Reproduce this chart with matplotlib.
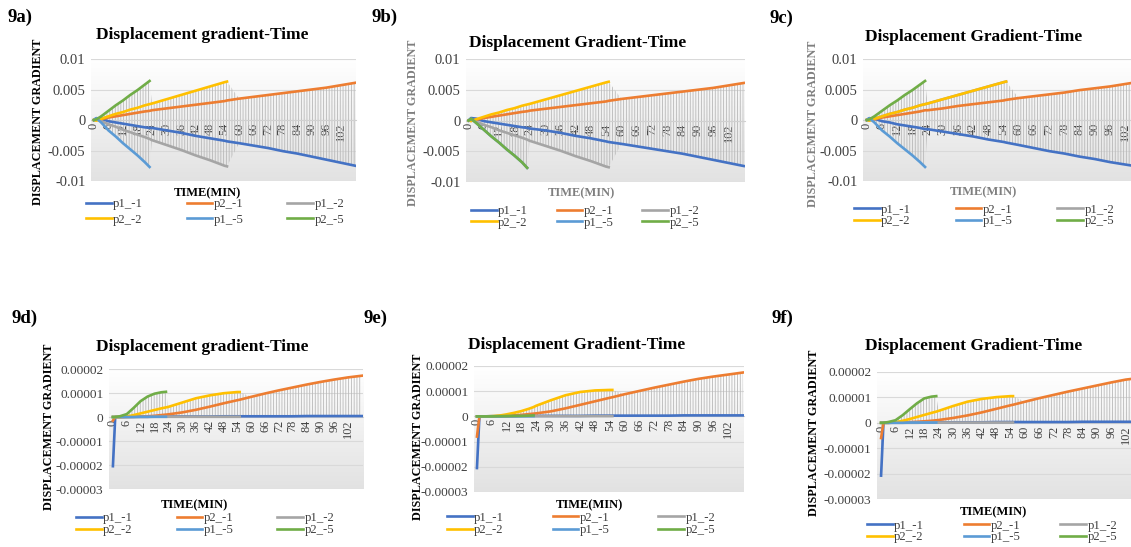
import numpy as np
import matplotlib
matplotlib.use("Agg")
import matplotlib.pyplot as plt
from matplotlib.colors import LinearSegmentedColormap

plt.rcParams['font.family'] = ['Liberation Serif', 'DejaVu Serif']
plt.rcParams['hatch.linewidth'] = 0.6

W, H = 1131, 547

# time grid (min) shared by every series; None = series already finished
T = [0, 1, 3, 6, 9, 12, 15, 18, 21, 23, 24, 30, 36, 42, 48, 54, 55,
     60, 66, 72, 78, 84, 90, 96, 102, 108]

SERIES = ["p1_-1", "p2_-1", "p1_-2", "p2_-2", "p1_-5", "p2_-5"]
COLORS = ["#4472C4", "#ED7D31", "#A5A5A5", "#FFC000", "#5B9BD5", "#70AD47"]

XTICKS = [0, 6, 12, 18, 24, 30, 36, 42, 48, 54, 60, 66, 72, 78, 84, 90, 96, 102]
YTICKS_TOP = [-0.01, -0.005, 0, 0.005, 0.01]
YLABELS_TOP = ["-0.01", "-0.005", "0", "0.005", "0.01"]
YTICKS_BOT = [-0.00003, -0.00002, -0.00001, 0, 0.00001, 0.00002]
YLABELS_BOT = ["-0.00003", "-0.00002", "-0.00001", "0", "0.00001", "0.00002"]

N = None
# ---- 9a
A_P1_1 = [0, 0.0003, 0.0002, -0.0002, -0.0004, -0.0006, -0.0008, -0.0010, -0.0012, -0.0013, -0.0013,
          -0.0017, -0.0021, -0.0026, -0.0030, -0.0034, -0.0035, -0.0038, -0.0042, -0.0046, -0.0051,
          -0.0055, -0.0060, -0.0065, -0.0070, -0.0075]
A_P2_1 = [0, 0, 0.0001, 0.0004, 0.0006, 0.0008, 0.0010, 0.0012, 0.0014, 0.0015, 0.0016,
          0.0019, 0.0022, 0.0025, 0.0028, 0.0031, 0.0032, 0.0035, 0.0038, 0.0041, 0.0044,
          0.0047, 0.0050, 0.0053, 0.0057, 0.0061]
A_P1_2 = [0, 0.0001, -0.0002, -0.0007, -0.0011, -0.0016, -0.0020, -0.0024, -0.0028, -0.0031, -0.0033,
          -0.0041, -0.0049, -0.0058, -0.0066, -0.0075, -0.0076, N, N, N, N, N, N, N, N, N]
A_P2_2 = [0, -0.0001, 0.0002, 0.0006, 0.0010, 0.0013, 0.0017, 0.0020, 0.0024, 0.0026, 0.0027,
          0.0034, 0.0041, 0.0048, 0.0055, 0.0062, 0.0063, N, N, N, N, N, N, N, N, N]
A_P1_5 = [0, 0.0003, -0.0004, -0.0017, -0.0027, -0.0038, -0.0048, -0.0058, -0.0069, -0.0077,
          N, N, N, N, N, N, N, N, N, N, N, N, N, N, N, N]
A_P2_5 = [0, 0.0001, 0.0006, 0.0015, 0.0024, 0.0032, 0.0041, 0.0049, 0.0058, 0.0064,
          N, N, N, N, N, N, N, N, N, N, N, N, N, N, N, N]
# ---- 9b
B_P1_1 = [0, 0.0004, 0.0003, -0.0001, -0.0003, -0.0005, -0.0007, -0.0009, -0.0011, -0.0012, -0.0013,
          -0.0016, -0.0020, -0.0025, -0.0029, -0.0034, -0.0035, -0.0038, -0.0042, -0.0046, -0.0050,
          -0.0054, -0.0059, -0.0064, -0.0069, -0.0074]
B_P2_1 = [0, 0, 0.0001, 0.0004, 0.0006, 0.0008, 0.0010, 0.0012, 0.0014, 0.0015, 0.0016,
          0.0019, 0.0022, 0.0025, 0.0028, 0.0031, 0.0032, 0.0035, 0.0038, 0.0041, 0.0044,
          0.0047, 0.0050, 0.0053, 0.0057, 0.0061]
B_P1_2 = [0, 0.0001, -0.0002, -0.0007, -0.0011, -0.0016, -0.0020, -0.0024, -0.0028, -0.0031, -0.0033,
          -0.0041, -0.0049, -0.0058, -0.0066, -0.0075, -0.0076, N, N, N, N, N, N, N, N, N]
B_P2_2 = [0, -0.0001, 0.0002, 0.0006, 0.0010, 0.0013, 0.0017, 0.0020, 0.0024, 0.0026, 0.0027,
          0.0034, 0.0041, 0.0048, 0.0055, 0.0062, 0.0063, N, N, N, N, N, N, N, N, N]
B_P1_5 = [0, 0.0003, -0.0004, -0.0015, -0.0026, -0.0036, -0.0047, -0.0057, -0.0068, -0.0077,
          N, N, N, N, N, N, N, N, N, N, N, N, N, N, N, N]
B_P2_5 = [0, 0.0003, -0.0004, -0.0015, -0.0026, -0.0036, -0.0047, -0.0057, -0.0068, -0.0077,
          N, N, N, N, N, N, N, N, N, N, N, N, N, N, N, N]
# ---- 9c
C_P1_1 = [0, 0.0003, 0.0002, -0.0002, -0.0004, -0.0007, -0.0009, -0.0011, -0.0013, -0.0015, -0.0015,
          -0.0019, -0.0023, -0.0027, -0.0032, -0.0036, -0.0037, -0.0041, -0.0046, -0.0051, -0.0055,
          -0.0060, -0.0064, -0.0069, -0.0073, -0.0077]
C_P2_1 = [0, 0, 0.0001, 0.0004, 0.0006, 0.0008, 0.0010, 0.0012, 0.0014, 0.0016, 0.0016,
          0.0019, 0.0023, 0.0026, 0.0029, 0.0032, 0.0033, 0.0036, 0.0039, 0.0042, 0.0045,
          0.0049, 0.0052, 0.0055, 0.0059, 0.0063]
C_P1_2 = [0, -0.0001, 0.0002, 0.0006, 0.0010, 0.0013, 0.0017, 0.0020, 0.0024, 0.0026, 0.0027,
          0.0034, 0.0041, 0.0048, 0.0055, 0.0062, 0.0063, N, N, N, N, N, N, N, N, N]
C_P2_2 = [0, -0.0001, 0.0002, 0.0006, 0.0010, 0.0013, 0.0017, 0.0020, 0.0024, 0.0026, 0.0027,
          0.0034, 0.0041, 0.0048, 0.0055, 0.0062, 0.0063, N, N, N, N, N, N, N, N, N]
C_P1_5 = [0, 0.0003, -0.0004, -0.0017, -0.0027, -0.0038, -0.0048, -0.0058, -0.0069, -0.0077,
          N, N, N, N, N, N, N, N, N, N, N, N, N, N, N, N]
C_P2_5 = [0, 0.0001, 0.0006, 0.0015, 0.0024, 0.0032, 0.0041, 0.0049, 0.0058, 0.0064,
          N, N, N, N, N, N, N, N, N, N, N, N, N, N, N, N]
# ---- 9d
D_P1_1 = [-2.05e-5, 0, 0, 1e-7, 1e-7, 1e-7, 1e-7, 2e-7, 2e-7, 2e-7, 2e-7, 2e-7, 2e-7, 2e-7,
          3e-7, 3e-7, 3e-7, 3e-7, 3e-7, 3e-7, 3e-7, 4e-7, 4e-7, 4e-7, 4e-7, 4e-7]
D_P2_1 = [-1.5e-6, 0, 0, 0, 1e-7, 2e-7, 3e-7, 5e-7, 8e-7, 1.0e-6, 1.1e-6, 1.9e-6, 3.0e-6, 4.3e-6,
          5.7e-6, 7.0e-6, 7.2e-6, 8.4e-6, 9.8e-6, 1.11e-5, 1.23e-5, 1.35e-5, 1.46e-5, 1.56e-5,
          1.65e-5, 1.72e-5]
D_P1_2 = [0, 0, 0, 0, 0, 0, 0, 1e-7, 1e-7, 1e-7, 1e-7, 1e-7, 1e-7, 1e-7, 1e-7, 1e-7, 1e-7,
          N, N, N, N, N, N, N, N, N]
D_P2_2 = [0, 0, 0, 2e-7, 8e-7, 1.5e-6, 2.2e-6, 2.9e-6, 3.6e-6, 4.0e-6, 4.2e-6, 6.0e-6, 7.8e-6,
          9.0e-6, 9.9e-6, 1.04e-5, 1.04e-5, N, N, N, N, N, N, N, N, N]
D_P1_5 = [0, 0, 0, 0, 0, 1e-7, 1e-7, 1e-7, 1e-7, 1e-7,
          N, N, N, N, N, N, N, N, N, N, N, N, N, N, N, N]
D_P2_5 = [0, 0, 3e-7, 1.2e-6, 3.8e-6, 6.6e-6, 8.5e-6, 9.7e-6, 1.03e-5, 1.05e-5,
          N, N, N, N, N, N, N, N, N, N, N, N, N, N, N, N]
# ---- 9e
E_P1_1 = [-2.05e-5, 0, 0, 1e-7, 1e-7, 1e-7, 1e-7, 2e-7, 2e-7, 2e-7, 2e-7, 2e-7, 2e-7, 2e-7,
          3e-7, 3e-7, 3e-7, 3e-7, 3e-7, 3e-7, 3e-7, 4e-7, 4e-7, 4e-7, 4e-7, 4e-7]
E_P2_1 = [-8e-6, 0, 0, 0, 1e-7, 2e-7, 4e-7, 6e-7, 9e-7, 1.1e-6, 1.2e-6, 2.0e-6, 3.2e-6, 4.6e-6,
          6.0e-6, 7.4e-6, 7.6e-6, 8.8e-6, 1.01e-5, 1.14e-5, 1.26e-5, 1.38e-5, 1.49e-5, 1.58e-5,
          1.66e-5, 1.74e-5]
E_P1_2 = [0, 0, 0, 0, 0, 0, 0, 1e-7, 1e-7, 1e-7, 1e-7, 1e-7, 1e-7, 1e-7, 1e-7, 1e-7, 1e-7,
          N, N, N, N, N, N, N, N, N]
E_P2_2 = [0, 0, 0, 1e-7, 3e-7, 8e-7, 1.4e-6, 2.1e-6, 3.0e-6, 3.7e-6, 4.2e-6, 6.4e-6, 8.4e-6,
          9.7e-6, 1.03e-5, 1.05e-5, 1.05e-5, N, N, N, N, N, N, N, N, N]
E_P1_5 = [0, 0, 0, 0, 0, 1e-7, 1e-7, 1e-7, 1e-7, 1e-7,
          N, N, N, N, N, N, N, N, N, N, N, N, N, N, N, N]
E_P2_5 = [0, 0, 0, 0, 1e-7, 1e-7, 2e-7, 2e-7, 3e-7, 4e-7,
          N, N, N, N, N, N, N, N, N, N, N, N, N, N, N, N]
# ---- 9f
F_P1_1 = [-2.08e-5, 0, 0, 1e-7, 1e-7, 1e-7, 1e-7, 2e-7, 2e-7, 2e-7, 2e-7, 2e-7, 2e-7, 2e-7,
          3e-7, 3e-7, 3e-7, 3e-7, 3e-7, 3e-7, 3e-7, 4e-7, 4e-7, 4e-7, 4e-7, 4e-7]
F_P2_1 = [-6e-6, 0, 0, 1e-7, 2e-7, 3e-7, 4e-7, 6e-7, 8e-7, 1.0e-6, 1.1e-6, 1.9e-6, 2.9e-6, 4.1e-6,
          5.5e-6, 6.9e-6, 7.1e-6, 8.3e-6, 9.7e-6, 1.1e-5, 1.23e-5, 1.35e-5, 1.47e-5, 1.59e-5,
          1.70e-5, 1.77e-5]
F_P1_2 = [0, 0, 0, 0, 0, 0, 0, 1e-7, 1e-7, 1e-7, 1e-7, 1e-7, 1e-7, 1e-7, 1e-7, 1e-7, 1e-7,
          N, N, N, N, N, N, N, N, N]
F_P2_2 = [0, 0, 0, 2e-7, 8e-7, 1.5e-6, 2.3e-6, 3.1e-6, 3.9e-6, 4.4e-6, 4.7e-6, 6.6e-6, 8.3e-6,
          9.4e-6, 1.01e-5, 1.05e-5, 1.05e-5, N, N, N, N, N, N, N, N, N]
F_P1_5 = [0, 0, 0, 0, 0, 1e-7, 1e-7, 1e-7, 1e-7, 1e-7,
          N, N, N, N, N, N, N, N, N, N, N, N, N, N, N, N]
F_P2_5 = [0, 0, 3e-7, 1.0e-6, 3.0e-6, 5.4e-6, 7.7e-6, 9.6e-6, 1.03e-5, 1.05e-5,
          N, N, N, N, N, N, N, N, N, N, N, N, N, N, N, N]

# layout in pixels: plot area (l, t, r, b), xlim, title pos, ylabel pos, xlabel pos,
# panel label pos, legend (x0, top, width, labelspacing), label colour
PANELS = [
    dict(tag="9a)", title="Displacement gradient-Time", data=[A_P1_1, A_P2_1, A_P1_2, A_P2_2, A_P1_5, A_P2_5],
         top=True, area=(91, 59, 356, 181), xlim=(-1.2, 108.3), tpos=(202, 35), ypos=(38, 122),
         xpos=(207, 193), lpos=(8, 17), leg=(86, 198, 258, 0.3), axc="black"),
    dict(tag="9b)", title="Displacement Gradient-Time", data=[B_P1_1, B_P2_1, B_P1_2, B_P2_2, B_P1_5, B_P2_5],
         top=True, area=(466, 59, 745, 182), xlim=(-1.0, 108.5), tpos=(578, 43), ypos=(413, 123),
         xpos=(581, 193), lpos=(371, 17), leg=(471, 205, 228, -0.02), axc="#7f7f7f"),
    dict(tag="9c)", title="Displacement Gradient-Time", data=[C_P1_1, C_P2_1, C_P1_2, C_P2_2, C_P1_5, C_P2_5],
         top=True, area=(863, 59, 1131, 181), xlim=(-1.5, 104.3), tpos=(974, 37), ypos=(813, 124),
         xpos=(983, 192), lpos=(770, 18), leg=(854, 203.5, 260, -0.02), axc="#7f7f7f"),
    dict(tag="9d)", title="Displacement gradient-Time", data=[D_P1_1, D_P2_1, D_P1_2, D_P2_2, D_P1_5, D_P2_5],
         top=False, area=(109, 369, 363, 489), xlim=(-1.7, 108.5), tpos=(202, 347), ypos=(49, 427),
         xpos=(194, 505), lpos=(12, 318), leg=(76, 512.5, 258, 0.0), axc="black"),
    dict(tag="9e)", title="Displacement Gradient-Time", data=[E_P1_1, E_P2_1, E_P1_2, E_P2_2, E_P1_5, E_P2_5],
         top=False, area=(474, 366, 744, 492), xlim=(-1.2, 108.5), tpos=(577, 345), ypos=(418, 437),
         xpos=(589, 505), lpos=(363, 318), leg=(447, 511.5, 268, 0.06), axc="black"),
    dict(tag="9f)", title="Displacement Gradient-Time", data=[F_P1_1, F_P2_1, F_P1_2, F_P2_2, F_P1_5, F_P2_5],
         top=False, area=(877, 372, 1131, 499), xlim=(-1.7, 104.2), tpos=(974, 346), ypos=(814, 433),
         xpos=(993, 512), lpos=(772, 318), leg=(867, 519.5, 250, -0.02), axc="black"),
]

fig = plt.figure(figsize=(W / 100, H / 100), dpi=100)
grad_cmap = LinearSegmentedColormap.from_list("bg", ["#ffffff", "#e2e2e2"])


def fx(x):
    return x / W


def fy(y):
    return 1 - y / H


for p in PANELS:
    l, t, r, b = p["area"]
    ax = fig.add_axes([fx(l), fy(b), (r - l) / W, (b - t) / H])
    if p["top"]:
        yt, yl, ylim = YTICKS_TOP, YLABELS_TOP, (-0.01, 0.01)
    else:
        yt, yl, ylim = YTICKS_BOT, YLABELS_BOT, (-0.00003, 0.00002)

    # plot area gradient
    ax.imshow(np.linspace(0, 1, 256).reshape(-1, 1), extent=[p["xlim"][0], p["xlim"][1], ylim[0], ylim[1]],
              aspect="auto", cmap=grad_cmap, zorder=0, interpolation="bilinear")

    vals = np.array(p["data"], dtype=float)
    hi = np.nanmax(vals, axis=0)
    lo = np.nanmin(vals, axis=0)
    # high-low lines
    ax.fill_between(T, lo, hi, facecolor="none", edgecolor="#b8b8b8", hatch="||||||", linewidth=0, zorder=1)

    handles = []
    for name, col, v in zip(SERIES, COLORS, vals):
        h, = ax.plot(T, v, color=col, lw=1.9, label=name, zorder=3)
        handles.append(h)

    ax.set_xlim(*p["xlim"])
    ax.set_ylim(*ylim)
    ax.set_yticks(yt)
    ax.set_yticklabels(yl)
    ax.set_xticks(XTICKS)
    ax.set_xticklabels([str(v) for v in XTICKS])
    ax.yaxis.grid(True, color="#d9d9d9", lw=0.8)
    ax.set_axisbelow(True)
    for s in ("top", "right", "left"):
        ax.spines[s].set_visible(False)
    ax.spines["bottom"].set_position(("data", 0))
    ax.spines["bottom"].set_color("#d0d0d0")
    ax.tick_params(axis="x", length=0, pad=2, labelrotation=90, labelsize=8.8, labelcolor="#404040")
    ax.tick_params(axis="y", length=0, pad=4, labelsize=10.5 if p["top"] else 9.6, labelcolor="#404040")

    fig.text(fx(p["lpos"][0]), fy(p["lpos"][1]), p["tag"], fontsize=13.5, fontweight="bold",
             ha="left", va="center")
    fig.text(fx(p["tpos"][0]), fy(p["tpos"][1]), p["title"], fontsize=12.5, fontweight="bold",
             ha="center", va="center")
    fig.text(fx(p["ypos"][0]), fy(p["ypos"][1]), "DISPLACEMENT GRADIENT", fontsize=8.7, fontweight="bold",
             rotation=90, ha="center", va="center", color=p["axc"])
    fig.text(fx(p["xpos"][0]), fy(p["xpos"][1]), "TIME(MIN)", fontsize=9, fontweight="bold",
             ha="center", va="center", color=p["axc"])

    x0, ltop, lw, lsp = p["leg"]
    order = [0, 3, 1, 4, 2, 5]
    leg = ax.legend(handles=[handles[i] for i in order], ncol=3, loc="upper left",
                    bbox_to_anchor=(fx(x0), fy(ltop) - 0.001, lw / W, 0.001),
                    bbox_transform=fig.transFigure, mode="expand", frameon=False, fontsize=9.2,
                    handlelength=2.0, handletextpad=0.1, borderpad=0, borderaxespad=0,
                    labelspacing=lsp, columnspacing=1.0)
    for txt in leg.get_texts():
        txt.set_color("#404040")

fig.savefig("out.png", dpi=100)
